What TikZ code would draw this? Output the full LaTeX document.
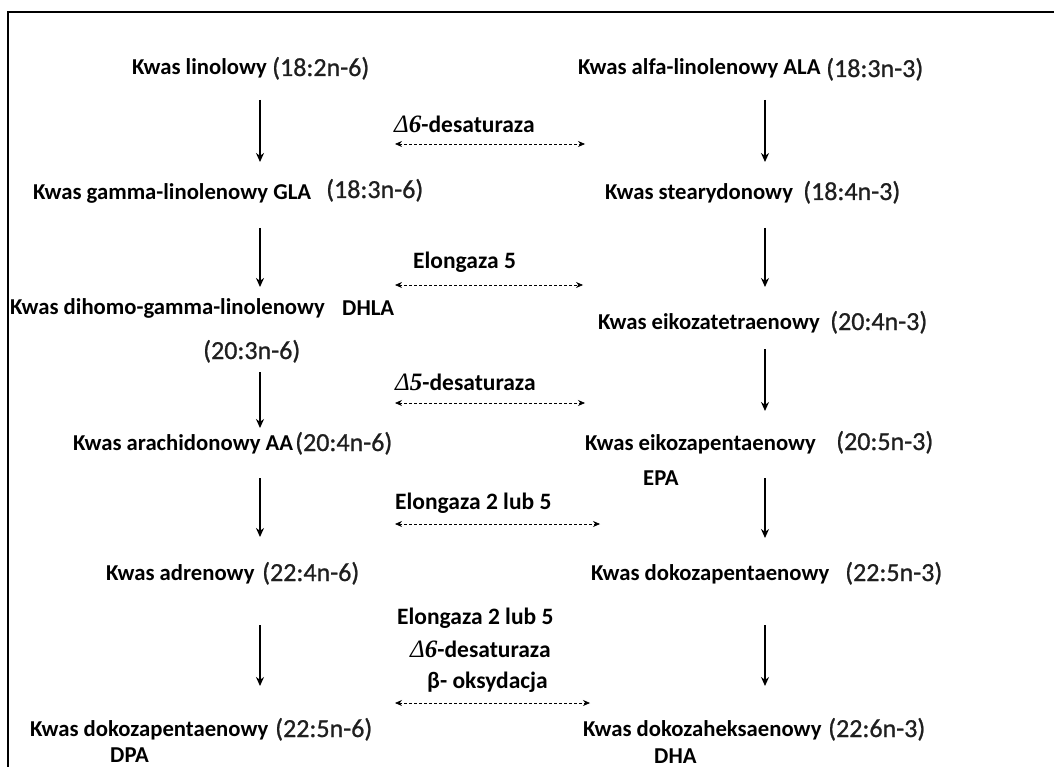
\documentclass[tikz,border=0pt]{standalone}
\usepackage{fontspec}
\setmainfont{Carlito}
\newfontfamily\greekfont{Liberation Serif}
\newfontfamily\numfont{Carlito}[FakeBold=0.9]
\usetikzlibrary{arrows.meta}
\begin{document}
\begin{tikzpicture}[x=1pt,y=-1pt,
  acid/.style={anchor=base west,inner sep=0pt,font=\fontsize{22.7}{25}\selectfont\bfseries},
  num/.style={anchor=base west,inner sep=0pt,font=\numfont\fontsize{26}{28}\selectfont,text=black!88},
  enz/.style={anchor=base west,inner sep=0pt,font=\fontsize{23.5}{26}\selectfont\bfseries},
  stepline/.style={line width=1.6pt,-{Stealth[length=9pt,width=8pt]}},
  enzline/.style={line width=0.7pt,dash pattern=on 3pt off 2pt,{Stealth[length=7pt,width=6pt]}-{Stealth[length=7pt,width=6pt]}}]
\useasboundingbox (0,0) rectangle (1054,767);
\newcommand{\dlt}[1]{{\greekfont\itshape\mdseries\fontsize{25}{27}\selectfont Δ\bfseries #1}}

% frame
\draw[line width=2.4pt] (1054,12) -- (8,12) -- (8,767);

% omega-6 pathway (left)
\node[acid] (l1) at (132,75) {Kwas linolowy};
\node[num]  (l1n) at (272,76) {(18:2n-6)};
\node[acid] (l2) at (33,200) {Kwas gamma-linolenowy GLA};
\node[num]  (l2n) at (326,198) {(18:3n-6)};
\node[acid] (l3) at (10,314) {Kwas dihomo-gamma-linolenowy};
\node[acid] (l3a) at (342,315) {DHLA};
\node[num]  (l3n) at (203,359) {(20:3n-6)};
\node[acid] (l4) at (73,450) {Kwas arachidonowy AA};
\node[num]  (l4n) at (295,451) {(20:4n-6)};
\node[acid] (l5) at (106,580) {Kwas adrenowy};
\node[num]  (l5n) at (262,581) {(22:4n-6)};
\node[acid] (l6) at (30,736) {Kwas dokozapentaenowy};
\node[num]  (l6n) at (275,737) {(22:5n-6)};
\node[acid] (l6a) at (110,762) {DPA};

% omega-3 pathway (right)
\node[acid] (r1) at (578,75) {Kwas alfa-linolenowy ALA};
\node[num]  (r1n) at (826,77) {(18:3n-3)};
\node[acid] (r2) at (605,200) {Kwas stearydonowy};
\node[num]  (r2n) at (803,200) {(18:4n-3)};
\node[acid] (r3) at (598,329) {Kwas eikozatetraenowy};
\node[num]  (r3n) at (830,330) {(20:4n-3)};
\node[acid] (r4) at (585,450) {Kwas eikozapentaenowy};
\node[num]  (r4n) at (836,450) {(20:5n-3)};
\node[acid] (r4a) at (643,485) {EPA};
\node[acid] (r5) at (591,580) {Kwas dokozapentaenowy};
\node[num]  (r5n) at (845,581) {(22:5n-3)};
\node[acid] (r6) at (583,736) {Kwas dokozaheksaenowy};
\node[num]  (r6n) at (828,737) {(22:6n-3)};
\node[acid] (r6a) at (654,763) {DHA};

% enzymes
\node[enz] (e1) at (394,133) {\dlt{6}-desaturaza};
\node[enz] (e2) at (413,269) {Elongaza 5};
\node[enz] (e3) at (395,390) {\dlt{5}-desaturaza};
\node[enz] (e4) at (395,509) {Elongaza 2 lub 5};
\node[enz] (e5a) at (397,624) {Elongaza 2 lub 5};
\node[enz] (e5b) at (410,657) {\dlt{6}-desaturaza};
\node[enz] (e5c) at (427,688) {β- oksydacja};

% arrow end points
\foreach \i/\ya/\yb/\yc/\yd in {1/100/162/100/162, 2/228/287/228/287, 3/372/428/349/411, 4/478/537/478/538, 5/625/686/625/686}{
  \coordinate (la\i) at (260,\ya);
  \coordinate (lb\i) at (260,\yb);
  \coordinate (ra\i) at (765,\yc);
  \coordinate (rb\i) at (765,\yd);
}
\foreach \i/\y/\xe in {1/144/585, 2/285/583, 3/403/585, 4/524/600, 5/703/590}{
  \coordinate (da\i) at (395,\y);
  \coordinate (db\i) at (\xe,\y);
}
\foreach \i in {1,...,5}{
  \draw[stepline] (la\i) -- (lb\i);
  \draw[stepline] (ra\i) -- (rb\i);
  \draw[enzline] (da\i) -- (db\i);
}
\end{tikzpicture}
\end{document}
